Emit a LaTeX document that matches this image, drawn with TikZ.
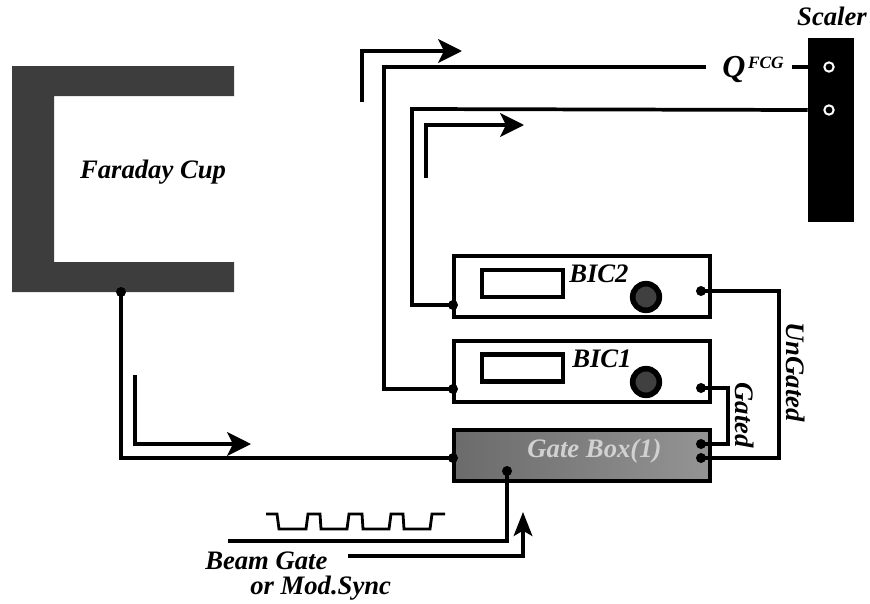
\documentclass[tikz,border=0pt]{standalone}
\usepackage{fontspec}
\setmainfont{Liberation Serif}
\usetikzlibrary{arrows.meta}
\definecolor{cupgray}{gray}{0.24}
\definecolor{gatetext}{gray}{0.82}
\tikzset{
  wire/.style={line width=3.4pt,line join=miter},
  thinwire/.style={line width=2.8pt,line join=miter},
  flow/.style={line width=2.3pt,line join=miter,-{Stealth[length=18pt,width=18pt,inset=4.5pt]}},
  pulse/.style={line width=2.1pt,line join=miter},
  unitbox/.style={draw=black,line width=3.4pt,fill=white,minimum width=192pt,minimum height=45.75pt,inner sep=0pt},
  meter/.style={draw=black,line width=3.4pt,fill=white,inner sep=0pt},
  knob/.style={circle,draw=black,line width=4.2pt,fill=black!75,minimum size=20pt,inner sep=0pt},
  pin/.style={circle,fill=black,minimum size=7.5pt,inner sep=0pt},
  hole/.style={circle,draw=white,line width=1.5pt,fill=black,minimum size=7pt,inner sep=0pt},
  lab/.style={font=\fontsize{20}{22}\selectfont\bfseries\itshape,inner sep=0pt,align=left},
}
\begin{document}
\begin{tikzpicture}[x=0.75pt,y=-0.75pt]
\useasboundingbox (0,0) rectangle (870,603);
% Faraday cup
\fill[cupgray] (12,66) -- (234,66) -- (234,96) -- (54,96) -- (54,262) -- (234,262) -- (234,292) -- (12,292) -- cycle;
\node[lab,text=black] (cuplabel) at (153,172) {Faraday Cup};
% Scaler
\node[fill=black,minimum width=34.5pt,minimum height=138pt,inner sep=0pt] (scaler) at (831,130) {};
\node[lab,anchor=base] (scalerlabel) at (832,25) {Scaler};
\node[hole] (h1) at (829,67) {};
\node[hole] (h2) at (829,110) {};
% Units
\node[unitbox] (bic2) at (582,286.5) {};
\node[unitbox] (bic1) at (582,371.5) {};
\node[unitbox,left color=black!58,right color=black!42,minimum height=38.5pt] (gate) at (582,455.5) {};
\node[meter,minimum width=61pt,minimum height=20pt] (m2) at (522.5,283.5) {};
\node[meter,minimum width=61pt,minimum height=20.5pt] (m1) at (522.5,368) {};
\node[knob] (k2) at (646,297) {};
\node[knob] (k1) at (646,382) {};
\node[lab,anchor=west] (bic2label) at (569,274) {BIC2};
\node[lab,anchor=west] (bic1label) at (572,359) {BIC1};
\node[lab,text=gatetext] (gatelabel) at (594.5,451) {Gate Box(1)};
% pins
\node[pin] (b2l) at (453,305) {};
\node[pin] (b2r) at (701,291) {};
\node[pin] (b1l) at (453,389) {};
\node[pin] (b1r) at (701,388) {};
\node[pin] (gl) at (453,458) {};
\node[pin] (gb) at (507,471) {};
\node[pin] (gu) at (701,444) {};
\node[pin] (gd) at (701,458) {};
\node[pin] (cupout) at (121,292) {};
% Q label
\node[lab,anchor=base west] (q) at (722,77) {\fontsize{24}{26}\selectfont Q\raisebox{6.5pt}{\fontsize{13}{14}\selectfont\hspace{2pt}FCG}};
\coordinate (qleft) at (706,67);
\coordinate (qright) at (792,67);
% wires
\draw[wire] (qleft) -- (384,67) |- (b1l.center);
\draw[wire] (qright) -- (scaler.west |- qright);
\draw[thinwire] (scaler.west |- h2) -- (412,109) |- (b2l.center);
\draw[wire] (b2r.center) -| (779,458) -- (gd.center);
\draw[wire] (b1r.center) -| (728,444) -- (gu.center);
\draw[wire] (cupout.center) |- (gl.center);
\coordinate (beamend) at (228,541);
\draw[wire] (gb.center) |- (beamend);
% flow arrows
\coordinate (f1a) at (362,102); \coordinate (f1b) at (362,51); \coordinate (f1c) at (462,51);
\draw[flow] (f1a) -- (f1b) -- (f1c);
\coordinate (f2a) at (426,178); \coordinate (f2b) at (426,125); \coordinate (f2c) at (524,125);
\draw[flow] (f2a) -- (f2b) -- (f2c);
\coordinate (f3a) at (135,375); \coordinate (f3b) at (135,444); \coordinate (f3c) at (251,444);
\draw[flow] (f3a) -- (f3b) -- (f3c);
\coordinate (f4a) at (348,556); \coordinate (f4b) at (523,556); \coordinate (f4c) at (523,512);
\draw[flow,-{Stealth[length=18pt,width=14pt,inset=4pt]}] (f4a) -- (f4b) -- (f4c);
% pulse train
\draw[pulse] (266,514) -- (277,514) -- (279,529) -- (306,529) -- (308,514) -- (320,514) -- (321,529) -- (347,529) -- (349,514) -- (362,514) -- (363,529) -- (389,529) -- (391,514) -- (403,514) -- (404,529) -- (430,529) -- (432,514) -- (445,514);
% rotated labels
\node[lab,rotate=-90] (gatedlabel) at (745,415) {Gated};
\node[lab,rotate=-90] (ungatedlabel) at (796,372) {UnGated};
\node[lab,anchor=west] (beamlabel) at (205,561) {Beam Gate};
\node[lab,anchor=west] (modlabel) at (250,588) {or Mod.Sync};
\end{tikzpicture}
\end{document}
